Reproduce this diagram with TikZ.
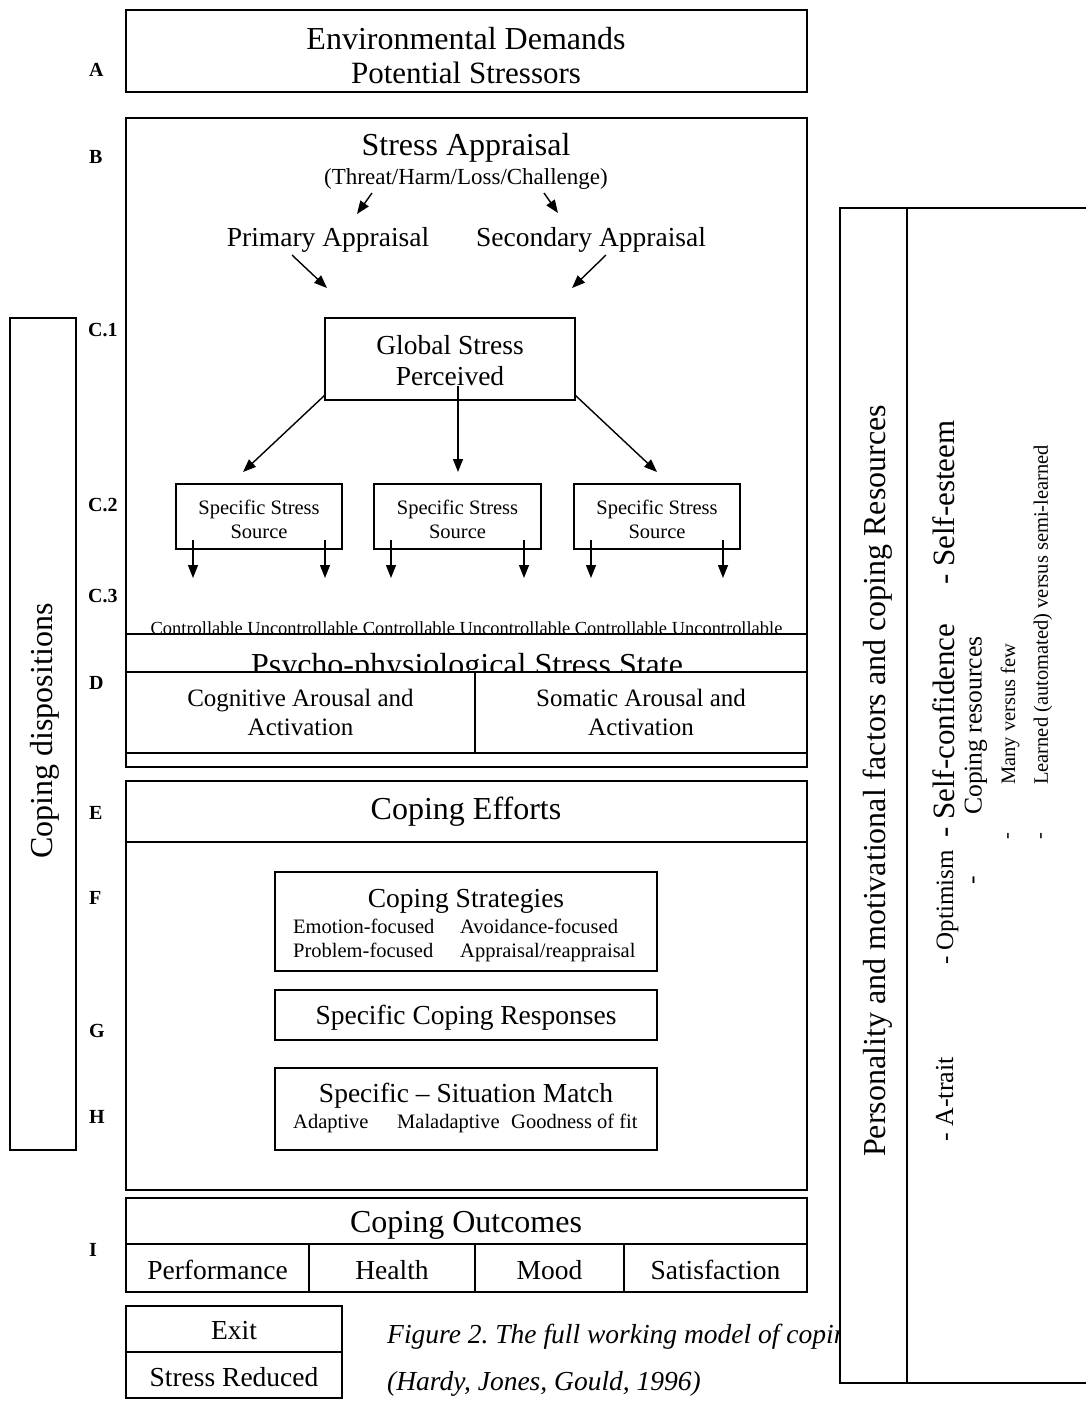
\documentclass[tikz,border=0pt]{standalone}
\usepackage{fontspec}
\setmainfont{Liberation Serif}
\usetikzlibrary{arrows.meta,calc}
\begin{document}
\frenchspacing
\begin{tikzpicture}[x=1pt,y=-1pt,
  box/.style={draw, line width=1.6pt, inner sep=0pt, outer sep=0pt},
  wbox/.style={box, fill=white},
  lab/.style={font=\fontsize{20}{24}\selectfont\bfseries, anchor=west, inner sep=0pt},
  arr/.style={line width=1.4pt, -{Triangle[length=13pt,width=10pt]}},
  tA/.style={font=\fontsize{32}{36}\selectfont, inner sep=0pt},
  tB/.style={font=\fontsize{27.5}{31}\selectfont, inner sep=0pt, align=center},
  tC/.style={font=\fontsize{20.5}{24}\selectfont, inner sep=0pt, align=center},
  tL/.style={font=\fontsize{20.5}{24}\selectfont, inner sep=0pt, anchor=base west},
  captxt/.style={font=\fontsize{27.5}{30}\selectfont\itshape, inner sep=0pt, anchor=west},
  rot/.style={rotate=90, inner sep=0pt}
]
\useasboundingbox (0,0) rectangle (1086,1401);

% ---------- A ----------
\node[box, minimum width=681pt, minimum height=82pt] (boxA) at (466.5,51) {};
\node[tA] (envd) at (466,39) {Environmental Demands};
\node[tA, font=\fontsize{31}{36}\selectfont] (pots) at (466,73) {Potential Stressors};

% ---------- B ----------
\node[box, minimum width=681pt, minimum height=649pt] (boxB) at (466.5,442.5) {};
\node[tA] (sapp) at (466,148) {Stress Appraisal};
\node[font=\fontsize{23}{27}\selectfont, inner sep=0pt] (threat) at (466,179) {(Threat/Harm/Loss/Challenge)};
\node[tB] (prim) at (328,240) {Primary Appraisal};
\node[tB] (sec) at (591,240) {Secondary Appraisal};

\coordinate (t1s) at (372,193);
\coordinate (t1e) at (357,214);
\coordinate (t2s) at (544,193);
\coordinate (t2e) at (558,213);
\draw[arr] (t1s) -- (t1e);
\draw[arr] (t2s) -- (t2e);

\coordinate (p1s) at (292,255);
\coordinate (p1e) at (327,288);
\coordinate (p2s) at (606,255);
\coordinate (p2e) at (572,288);
\draw[arr] (p1s) -- (p1e);
\draw[arr] (p2s) -- (p2e);

% Global stress
\node[box, minimum width=250pt, minimum height=82pt] (glob) at (450,359) {};
\node[tB] (globt) at (450,361) {Global Stress\\Perceived};

% Specific stress sources
\node[box, minimum width=166pt, minimum height=65pt] (src1) at (259,516.5) {};
\node[box, minimum width=167pt, minimum height=65pt] (src2) at (457.5,516.5) {};
\node[box, minimum width=166pt, minimum height=65pt] (src3) at (657,516.5) {};
\node[tC] at (259,519) {Specific Stress\\Source};
\node[tC] at (457.5,519) {Specific Stress\\Source};
\node[tC] at (657,519) {Specific Stress\\Source};

\draw[arr] ($(glob.south west)+(0,-5)$) -- ($(src1.north)+(-16,-12)$);
\draw[arr] ($(glob.south)+(8,-14)$) -- ($(src2.north)+(0.5,-12)$);
\draw[arr] ($(glob.south east)+(0,-5)$) -- ($(src3.north)+(0,-12)$);

\foreach \s in {src1,src2,src3}{
  \draw[arr] ($(\s.south west)+(17,-9)$) -- ($(\s.south west)+(17,29)$);
  \draw[arr] ($(\s.south east)+(-17,-9)$) -- ($(\s.south east)+(-17,29)$);
}

\node[font=\fontsize{18.45}{21}\selectfont, inner sep=0pt] (ctrl) at (466.5,628)
  {Controllable Uncontrollable Controllable Uncontrollable Controllable Uncontrollable};

% ---------- D ----------
\node[box, minimum width=681pt, minimum height=38pt] (psy) at (466.5,653) {};
\node[tA, anchor=base] (psyt) at (467,675) {Psycho-physiological Stress State};
\node[wbox, minimum width=349pt, minimum height=81pt] (cog) at (300.5,712.5) {};
\node[wbox, minimum width=332pt, minimum height=81pt] (som) at (641,712.5) {};
\node[font=\fontsize{25}{29}\selectfont, inner sep=0pt, align=center] at (300.5,712.5) {Cognitive Arousal and\\Activation};
\node[font=\fontsize{25}{29}\selectfont, inner sep=0pt, align=center] at (641,712.5) {Somatic Arousal and\\Activation};
\draw[box] (boxB.south west) rectangle (boxB.south east |- psy.north);

% ---------- E-H ----------
\node[box, minimum width=681pt, minimum height=409pt] (boxE) at (466.5,985.5) {};
\node[box, minimum width=681pt, minimum height=61pt] (effh) at (466.5,811.5) {};
\node[tA] (efft) at (466,812) {Coping Efforts};

\node[box, minimum width=382pt, minimum height=99pt] (strat) at (466,921.5) {};
\node[tB] at (466,901) {Coping Strategies};
\node[tL] at (293,933) {Emotion-focused};
\node[tL] at (460,933) {Avoidance-focused};
\node[tL] at (293,957) {Problem-focused};
\node[tL] at (460,957) {Appraisal/reappraisal};

\node[box, minimum width=382pt, minimum height=50pt] (resp) at (466,1015) {};
\node[tB] at (466,1018) {Specific Coping Responses};

\node[box, minimum width=382pt, minimum height=82pt] (match) at (466,1109) {};
\node[tB] at (466,1096) {Specific -- Situation Match};
\node[tL] at (293,1128) {Adaptive};
\node[tL] at (397,1128) {Maladaptive};
\node[tL] at (511,1128) {Goodness of fit};

% ---------- I ----------
\node[box, minimum width=681pt, minimum height=46pt] (outh) at (466.5,1221) {};
\node[tA] at (466,1225) {Coping Outcomes};
\node[box, minimum width=183pt, minimum height=48pt] (perf) at (217.5,1268) {};
\node[box, minimum width=166pt, minimum height=48pt] (hlth) at (392,1268) {};
\node[box, minimum width=149pt, minimum height=48pt] (mood) at (549.5,1268) {};
\node[box, minimum width=183pt, minimum height=48pt] (satf) at (715.5,1268) {};
\node[tB] at (217.5,1270) {Performance};
\node[tB] at (392,1270) {Health};
\node[tB] at (549.5,1270) {Mood};
\node[tB] at (715.5,1270) {Satisfaction};

% ---------- Exit ----------
\node[box, minimum width=216pt, minimum height=46pt] (exit) at (234,1329) {};
\node[box, minimum width=216pt, minimum height=46pt] (sred) at (234,1375) {};
\node[tB] at (234,1331) {Exit};
\node[tB] at (234,1377) {Stress Reduced};

% caption
\node[captxt] (cap1) at (387,1337) {Figure 2. The full working model of coping};
\node[captxt] (cap2) at (387,1384) {(Hardy, Jones, Gould, 1996)};

% ---------- labels ----------
\node[lab] at (89,70) {A};
\node[lab] at (89,157) {B};
\node[lab] at (88,330) {C.1};
\node[lab] at (88,505) {C.2};
\node[lab] at (88,596) {C.3};
\node[lab] at (89,683) {D};
\node[lab] at (89,813) {E};
\node[lab] at (89,898) {F};
\node[lab] at (89,1031) {G};
\node[lab] at (89,1117) {H};
\node[lab] at (89,1250) {I};

% ---------- Coping dispositions ----------
\node[box, minimum width=66pt, minimum height=832pt] (disp) at (43,734) {};
\node[tA, rot] at (45,731) {Coping dispositions};

% ---------- Personality box ----------
\node[wbox, minimum width=250pt, minimum height=1175pt] (pers) at (965,795.5) {};
\draw[line width=1.6pt] (907,208) -- (907,1383);
\node[tA, rot] at (878,781) {Personality and motivational factors and coping Resources};
\begin{scope}[every node/.style={rotate=90, inner sep=0pt, anchor=base west}]
\node[font=\fontsize{26}{30}\selectfont] at (953,1142) {- A-trait};
\node[font=\fontsize{25}{30}\selectfont] at (953,965) {- Optimism};
\node[font=\fontsize{31}{30}\selectfont] at (954,838) {- Self-confidence};
\node[font=\fontsize{31}{30}\selectfont] at (954,585) {- Self-esteem};
\end{scope}
\begin{scope}[every node/.style={font=\fontsize{25.6}{30}\selectfont, rotate=90, inner sep=0pt, anchor=west}]
\node at (976,885) {-};
\node at (976,815) {Coping resources};
\end{scope}
\begin{scope}[every node/.style={font=\fontsize{20.5}{24}\selectfont, rotate=90, inner sep=0pt, anchor=west}]
\node at (1010,840) {-};
\node at (1010,785) {Many versus few};
\node at (1043,840) {-};
\node at (1043,785) {Learned (automated) versus semi-learned};
\end{scope}
\end{tikzpicture}
\end{document}
